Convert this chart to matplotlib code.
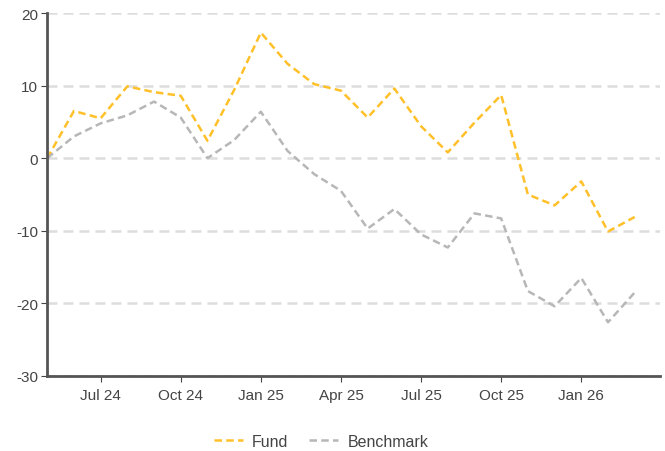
import matplotlib
matplotlib.use("Agg")
import matplotlib.pyplot as plt
import numpy as np

plt.rcParams['font.family'] = ['Liberation Sans', 'DejaVu Sans']
plt.rcParams['axes.unicode_minus'] = False

# monthly points, May 24 .. Mar 26
months = ["May 24", "Jun 24", "Jul 24", "Aug 24", "Sep 24", "Oct 24", "Nov 24", "Dec 24",
          "Jan 25", "Feb 25", "Mar 25", "Apr 25", "May 25", "Jun 25", "Jul 25", "Aug 25",
          "Sep 25", "Oct 25", "Nov 25", "Dec 25", "Jan 26", "Feb 26", "Mar 26"]
fund = [0, 6.5, 5.5, 9.9, 9.1, 8.6, 2.4, 9.4, 17.3, 13.0, 10.2, 9.3, 5.6, 9.6, 4.4, 0.8,
        4.9, 8.7, -5.0, -6.5, -3.2, -10.1, -8.1]
bench = [0, 3.0, 4.8, 5.9, 7.8, 5.6, 0.0, 2.5, 6.4, 1.0, -2.2, -4.5, -9.7, -7.0, -10.5, -12.3,
         -7.6, -8.3, -18.3, -20.4, -16.5, -22.6, -18.5]
tick_labels = ["Jul 24", "Oct 24", "Jan 25", "Apr 25", "Jul 25", "Oct 25", "Jan 26"]

x = np.arange(len(months))
tick_pos = [months.index(t) for t in tick_labels]

fig = plt.figure(figsize=(6.65, 4.52), dpi=100)
ax = fig.add_axes([0.071, 0.166, 0.922, 0.803])

ax.plot(x, fund, color='#FFC02A', lw=1.8, dashes=(3.0, 1.7), label='Fund')
ax.plot(x, bench, color='#B7B7B7', lw=1.8, dashes=(3.0, 1.7), label='Benchmark')

ax.set_xlim(0, 22.96)
ax.set_ylim(-30, 20)
ax.set_yticks([-30, -20, -10, 0, 10, 20])
ax.set_xticks(tick_pos)
ax.set_xticklabels(tick_labels)

ax.yaxis.grid(True, color='#DDDDDD', lw=1.8, dashes=(4.0, 2.4))
ax.set_axisbelow(True)
for s in ['top', 'right']:
    ax.spines[s].set_visible(False)
for s in ['left', 'bottom']:
    ax.spines[s].set_color('#555555')
    ax.spines[s].set_linewidth(2)
ax.tick_params(colors='#444444', labelsize=11, length=4.5, width=0.8)
ax.tick_params(axis='x', pad=4)
ax.tick_params(axis='y', pad=2)
for lab in ax.get_xticklabels() + ax.get_yticklabels():
    lab.set_color('#444444')

fig.legend(loc='center', bbox_to_anchor=(0.483, 0.022), ncol=2, frameon=False,
           fontsize=11.5, handlelength=1.8, handletextpad=0.6, columnspacing=1.3,
           labelcolor='#444444', borderpad=0)

fig.savefig('out.png', dpi=100)
